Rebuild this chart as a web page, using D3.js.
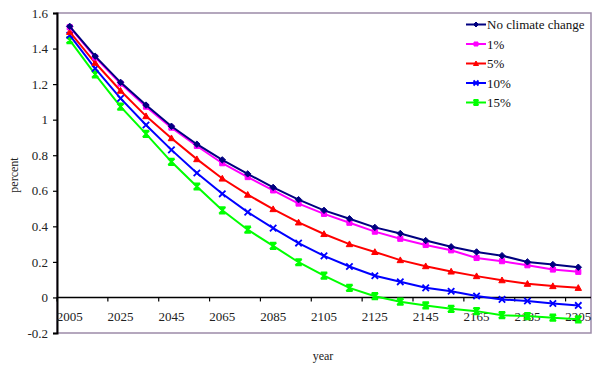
<!DOCTYPE html>
<html>
<head>
<meta charset="utf-8">
<script src="https://cdn.jsdelivr.net/npm/d3@7"></script>
<style>
  html, body { margin: 0; padding: 0; background: #fff; }
  svg { display: block; }
  svg text { font-family: "Liberation Serif", "Times New Roman", serif; }
</style>
</head>
<body>
<svg id="chart" width="592" height="367"></svg>
<script>
// Years (one point every 10 years)
const years = [2005, 2015, 2025, 2035, 2045, 2055, 2065, 2075, 2085, 2095, 2105,
               2115, 2125, 2135, 2145, 2155, 2165, 2175, 2185, 2195, 2205];

// Series values (percent)
const noClimateChange = [1.525, 1.357, 1.21, 1.082, 0.963, 0.862, 0.774, 0.695, 0.619, 0.55, 0.49,
                         0.443, 0.394, 0.36, 0.32, 0.285, 0.256, 0.235, 0.2, 0.185, 0.17];
const pct1  = [1.52, 1.35, 1.203, 1.073, 0.955, 0.852, 0.755, 0.677, 0.602, 0.528, 0.47,
               0.42, 0.37, 0.33, 0.295, 0.265, 0.222, 0.204, 0.181, 0.157, 0.144];
const pct5  = [1.494, 1.32, 1.163, 1.02, 0.896, 0.778, 0.669, 0.578, 0.497, 0.422, 0.357,
               0.30, 0.256, 0.21, 0.176, 0.146, 0.12, 0.097, 0.077, 0.064, 0.054];
const pct10 = [1.475, 1.288, 1.12, 0.97, 0.83, 0.70, 0.583, 0.48, 0.39, 0.306, 0.234,
               0.174, 0.122, 0.088, 0.054, 0.035, 0.008, -0.011, -0.02, -0.034, -0.045];
const pct15 = [1.447, 1.255, 1.073, 0.92, 0.763, 0.624, 0.49, 0.381, 0.29, 0.198, 0.123,
               0.054, 0.007, -0.024, -0.045, -0.064, -0.077, -0.10, -0.105, -0.114, -0.123];

const seriesNames = ["No climate change", "1%", "5%", "10%", "15%"];
const seriesColors = ["#000080", "#ff00ff", "#ff0000", "#0000ff", "#00ff00"];
const seriesMarkers = ["diamond", "square", "triangle", "cross", "star"];
const seriesValues = [noClimateChange, pct1, pct5, pct10, pct15];

// Axis ticks
const yTicks = [-0.2, 0, 0.2, 0.4, 0.6, 0.8, 1, 1.2, 1.4, 1.6];
const xLabelYears = [2005, 2025, 2045, 2065, 2085, 2105, 2125, 2145, 2165, 2185, 2205];

const FONT = "Liberation Serif, Times New Roman, serif";
const svg = d3.select("#chart").attr("font-family", FONT);
const plot = { left: 57, right: 591, top: 13, bottom: 333 };

const x = d3.scaleBand().domain(years).range([plot.left, plot.right]);
const y = d3.scaleLinear().domain([-0.2, 1.6]).range([plot.bottom, plot.top]);
const cx = d => x(d) + x.bandwidth() / 2;

// Plot area frame
svg.append("rect")
  .attr("x", plot.left).attr("y", plot.top)
  .attr("width", plot.right - plot.left).attr("height", plot.bottom - plot.top)
  .attr("fill", "none").attr("stroke", "#9c8aa8").attr("stroke-width", 1.5);

// Y axis
const yAxis = d3.axisLeft(y).tickValues(yTicks).tickSize(4).tickPadding(5)
  .tickFormat(d => String(Math.round(d * 10) / 10));
const gy = svg.append("g").attr("transform", `translate(${plot.left},0)`).call(yAxis)
  .attr("font-family", FONT).attr("font-size", 13);
gy.select(".domain").attr("stroke", "#000").attr("stroke-width", 2);
gy.selectAll(".tick line").attr("stroke", "#000").attr("stroke-width", 1.2);
gy.selectAll(".tick text").attr("fill", "#222");

// X axis drawn at y = 0, ticks every two categories
const y0 = y(0);
svg.append("line")
  .attr("x1", plot.left).attr("x2", plot.right)
  .attr("y1", y0).attr("y2", y0)
  .attr("stroke", "#000").attr("stroke-width", 1.5);
const tickIdx = d3.range(0, years.length + 1, 2);
svg.append("g").selectAll("line").data(tickIdx).join("line")
  .attr("x1", i => plot.left + i * x.step())
  .attr("x2", i => plot.left + i * x.step())
  .attr("y1", y0).attr("y2", y0 + 4)
  .attr("stroke", "#000").attr("stroke-width", 1.2);
svg.append("g").selectAll("text").data(xLabelYears).join("text")
  .attr("x", d => cx(d)).attr("y", y0 + 24)
  .attr("text-anchor", "middle").attr("font-size", 13).attr("fill", "#222")
  .text(d => d);

// Axis titles
svg.append("text").attr("transform", "translate(18,175) rotate(-90)")
  .attr("text-anchor", "middle").attr("font-size", 12).attr("fill", "#222").text("percent");
svg.append("text").attr("x", 323).attr("y", 360)
  .attr("text-anchor", "middle").attr("font-size", 12).attr("fill", "#222").text("year");

// Marker drawing
function markerPath(type, s) {
  switch (type) {
    case "diamond": return `M0,${-s}L${s},0L0,${s}L${-s},0Z`;
    case "square": return `M${-s * 0.8},${-s * 0.8}h${s * 1.6}v${s * 1.6}h${-s * 1.6}Z`;
    case "triangle": return `M0,${-s}L${s},${s * 0.8}L${-s},${s * 0.8}Z`;
    case "cross": return `M${-s},${-s}L${s},${s}M${-s},${s}L${s},${-s}`;
    case "star": return `M${-s},${-s}L${s},${s}M${-s},${s}L${s},${-s}M0,${-s}V${s}M${-s},${-s}H${s}M${-s},${s}H${s}`;
  }
}
function drawMarker(g, type, color, s) {
  const filled = type !== "cross" && type !== "star";
  g.append("path").attr("d", markerPath(type, s))
    .attr("fill", filled ? color : "none")
    .attr("stroke", color).attr("stroke-width", filled ? 1 : 1.8);
}

const line = d3.line().x((d, i) => cx(years[i])).y(d => y(d));

// Series lines and markers (drawn back to front)
for (let k = seriesValues.length - 1; k >= 0; k--) {
  const vals = seriesValues[k];
  const g = svg.append("g");
  g.append("path").datum(vals).attr("d", line)
    .attr("fill", "none").attr("stroke", seriesColors[k]).attr("stroke-width", 2);
  vals.forEach((v, i) => {
    const mg = g.append("g").attr("transform", `translate(${cx(years[i])},${y(v)})`);
    drawMarker(mg, seriesMarkers[k], seriesColors[k], 3.2);
  });
}

// Legend
const legend = svg.append("g");
seriesNames.forEach((name, k) => {
  const ly = 24.5 + k * 19.5;
  const lg = legend.append("g");
  lg.append("line").attr("x1", 466).attr("x2", 486).attr("y1", ly).attr("y2", ly)
    .attr("stroke", seriesColors[k]).attr("stroke-width", 2);
  const mg = lg.append("g").attr("transform", `translate(476,${ly})`);
  drawMarker(mg, seriesMarkers[k], seriesColors[k], 2.5);
  lg.append("text").attr("x", 487).attr("y", ly + 4.5)
    .attr("font-size", 13).attr("fill", "#111").text(name);
});
</script>
</body>
</html>
